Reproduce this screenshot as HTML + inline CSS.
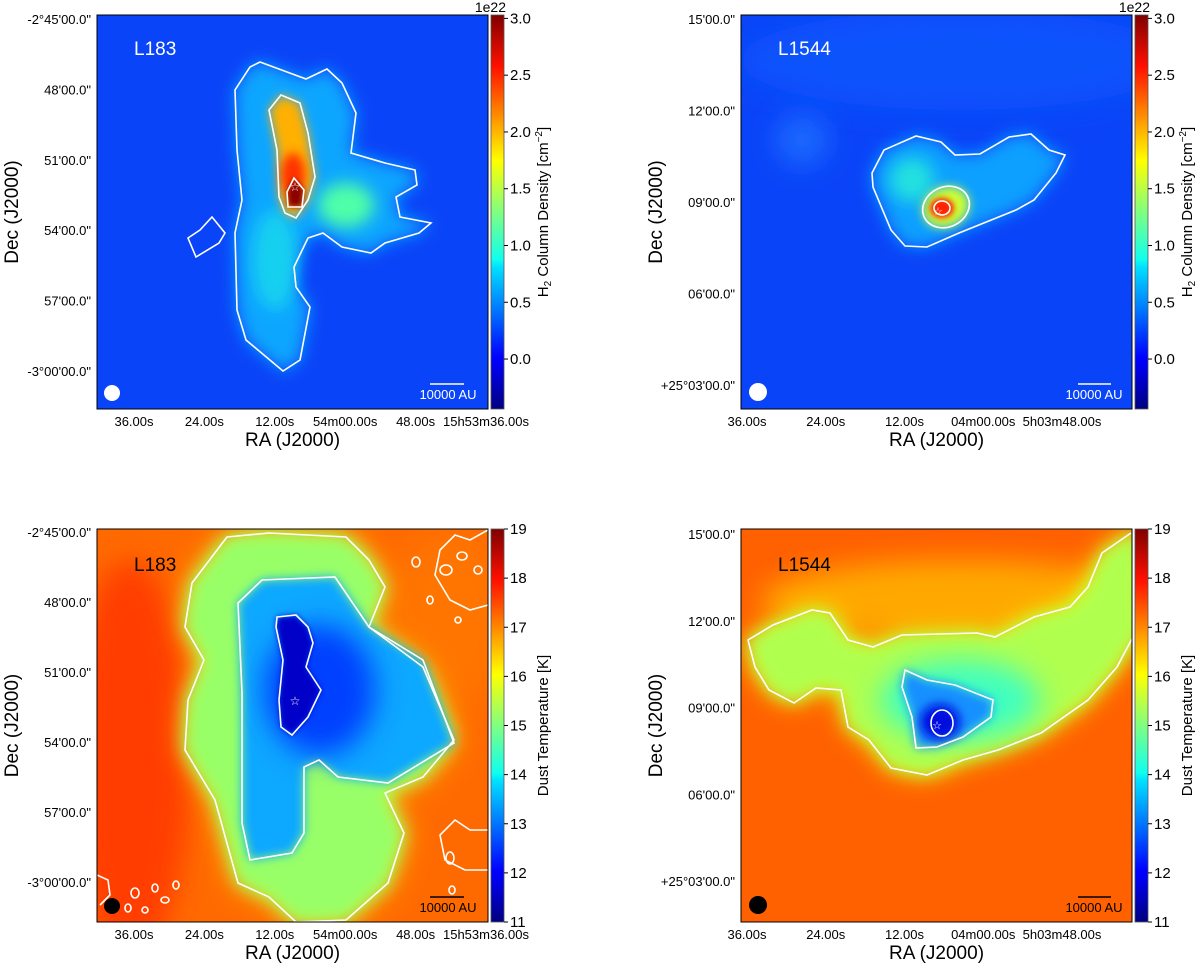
<!DOCTYPE html>
<html><head><meta charset="utf-8"><style>
html,body{margin:0;padding:0;background:#fff;}
svg text{font-family:"Liberation Sans","DejaVu Sans",sans-serif;}
</style></head>
<body>
<svg id="fig" width="1200" height="965" viewBox="0 0 1200 965" xmlns="http://www.w3.org/2000/svg">
<defs>
  <linearGradient id="jet" x1="0" y1="1" x2="0" y2="0">
    <stop offset="0" stop-color="#000080"/>
    <stop offset="0.11" stop-color="#0000f0"/>
    <stop offset="0.13" stop-color="#0000ff"/>
    <stop offset="0.36" stop-color="#00e0ff"/>
    <stop offset="0.38" stop-color="#10ffee"/>
    <stop offset="0.5" stop-color="#80ff80"/>
    <stop offset="0.63" stop-color="#ffff00"/>
    <stop offset="0.87" stop-color="#ff1000"/>
    <stop offset="1" stop-color="#800000"/>
  </linearGradient>
  <filter id="b8" x="-50%" y="-50%" width="200%" height="200%"><feGaussianBlur stdDeviation="8"/></filter>
  <filter id="b14" x="-50%" y="-50%" width="200%" height="200%"><feGaussianBlur stdDeviation="14"/></filter>
  <filter id="b5" x="-50%" y="-50%" width="200%" height="200%"><feGaussianBlur stdDeviation="5"/></filter>
  <filter id="b3" x="-50%" y="-50%" width="200%" height="200%"><feGaussianBlur stdDeviation="3"/></filter>
  <clipPath id="c1"><rect x="97" y="15" width="391" height="394"/></clipPath>
  <clipPath id="c2"><rect x="741" y="15" width="391" height="394"/></clipPath>
  <clipPath id="c3"><rect x="97" y="529" width="391" height="393"/></clipPath>
  <clipPath id="c4"><rect x="741" y="529" width="391" height="393"/></clipPath>
</defs>

<!-- Panel 1: L183 column density -->
<g clip-path="url(#c1)">
  <rect x="97" y="15" width="391" height="394" fill="#0a44f8"/>
  <path d="M260,62 L306,79 L327,69 L342,83 L356,113 L351,153 L385,163 L415,170 L417,185 L396,197 L400,217 L431,223 L419,233 L385,243 L371,253 L342,247 L323,233 L308,238 L294,267 L296,287 L310,307 L300,360 L283,371 L246,340 L237,310 L235,233 L242,200 L237,150 L235,90 L250,67 Z" fill="#0aa6ff" filter="url(#b8)"/>
  <ellipse cx="346" cy="205" rx="28" ry="22" fill="#50ffa8" filter="url(#b8)"/>
  <ellipse cx="275" cy="260" rx="22" ry="50" fill="#18d0f0" filter="url(#b8)"/>
  <path d="M281,95 L300,103 L308,133 L315,177 L308,200 L296,218 L285,213 L279,197 L277,150 L269,110 Z" fill="#ffb000" filter="url(#b5)"/>
  <ellipse cx="293" cy="175" rx="12" ry="22" fill="#ff3000" filter="url(#b5)"/>
  <path d="M294,178 L304,190 L302,207 L288,207 L287,192 Z" fill="#8a0000" filter="url(#b3)"/>
  <g fill="none" stroke="#fff" stroke-width="1.6">
    <path d="M260,62 L306,79 L327,69 L342,83 L356,113 L351,153 L385,163 L415,170 L417,185 L396,197 L400,217 L431,223 L419,233 L385,243 L371,253 L342,247 L323,233 L308,238 L294,267 L296,287 L310,307 L300,360 L283,371 L246,340 L237,310 L235,233 L242,200 L237,150 L235,90 L250,67 Z"/>
    <path d="M212,217 L225,233 L219,243 L196,257 L188,238 L200,230 Z"/>
    <path d="M281,95 L300,103 L308,133 L315,177 L308,200 L296,218 L285,213 L279,197 L277,150 L269,110 Z"/>
    <path d="M294,178 L304,190 L302,207 L288,207 L287,192 Z"/>
  </g>
  <text x="295" y="191" font-size="12" fill="#fff" text-anchor="middle">☆</text>
  <text x="134" y="55" font-size="19" fill="#fff">L183</text>
  <circle cx="112" cy="393" r="8" fill="#fff"/>
  <line x1="430" y1="384" x2="464" y2="384" stroke="#fff" stroke-width="1.5"/>
  <text x="448" y="399" font-size="13" fill="#fff" text-anchor="middle">10000 AU</text>
</g>

<!-- Panel 2: L1544 column density -->
<g clip-path="url(#c2)">
  <rect x="741" y="15" width="391" height="394" fill="#0a44f8"/>
  <ellipse cx="960" cy="60" rx="220" ry="50" fill="#0d52fc" filter="url(#b14)"/>
  <ellipse cx="802" cy="140" rx="25" ry="25" fill="#1a6cff" filter="url(#b14)"/>
  <path d="M884,150 L916,136 L941,142 L955,155 L980,154 L1009,137 L1031,134 L1049,150 L1065,155 L1056,173 L1034,200 L1016,210 L959,233 L927,247 L905,246 L891,230 L873,187 L872,173 Z" fill="#0aa0ff" filter="url(#b8)"/>
  <ellipse cx="912" cy="180" rx="22" ry="22" fill="#20e0e0" filter="url(#b8)"/>
  <ellipse cx="946" cy="207" rx="24" ry="20" fill="#d0ff30" filter="url(#b5)" transform="rotate(-25 946 207)"/>
  <ellipse cx="942" cy="208" rx="12" ry="10" fill="#ff2000" filter="url(#b3)"/>
  <g fill="none" stroke="#fff" stroke-width="1.6">
    <path d="M884,150 L916,136 L941,142 L955,155 L980,154 L1009,137 L1031,134 L1049,150 L1065,155 L1056,173 L1034,200 L1016,210 L959,233 L927,247 L905,246 L891,230 L873,187 L872,173 Z"/>
    <ellipse cx="946" cy="207" rx="24" ry="20" transform="rotate(-25 946 207)"/>
    <ellipse cx="942" cy="208" rx="8" ry="7"/>
  </g>
  <text x="938" y="215" font-size="11" fill="#fff" text-anchor="middle">☆</text>
  <text x="778" y="55" font-size="19" fill="#fff">L1544</text>
  <circle cx="758" cy="392" r="9" fill="#fff"/>
  <line x1="1078" y1="384" x2="1111" y2="384" stroke="#fff" stroke-width="1.5"/>
  <text x="1094" y="399" font-size="13" fill="#fff" text-anchor="middle">10000 AU</text>
</g>

<!-- Panel 3: L183 temperature -->
<g clip-path="url(#c3)">
  <rect x="97" y="529" width="391" height="393" fill="#ff6a00"/>
  <ellipse cx="130" cy="760" rx="60" ry="200" fill="#ff3c00" filter="url(#b14)"/>
  <ellipse cx="450" cy="620" rx="60" ry="90" fill="#ff7400" filter="url(#b14)"/>
  <path d="M227,537 L269,533 L346,537 L369,560 L385,587 L369,627 L423,667 L454,740 L423,777 L385,793 L404,833 L388,883 L346,920 L296,922 L269,897 L238,883 L215,800 L185,750 L188,700 L204,660 L185,627 L192,583 Z" fill="#e0ff20" filter="url(#b14)"/>
  <path d="M227,537 L269,533 L346,537 L369,560 L385,587 L369,627 L423,667 L454,740 L423,777 L385,793 L404,833 L388,883 L346,920 L296,922 L269,897 L238,883 L215,800 L185,750 L188,700 L204,660 L185,627 L192,583 Z" fill="#98ff68" filter="url(#b8)"/>
  <path d="M262,580 L335,577 L369,627 L423,660 L454,743 L388,783 L338,777 L319,760 L304,767 L304,833 L292,853 L250,860 L242,823 L242,693 L238,603 Z" fill="#10a8ff" filter="url(#b5)"/>
  <ellipse cx="320" cy="690" rx="55" ry="65" fill="#0540ff" filter="url(#b14)"/>
  <path d="M277,617 L296,615 L308,627 L313,643 L306,667 L321,690 L308,717 L292,735 L281,727 L279,700 L283,660 L276,627 Z" fill="#0000c8" filter="url(#b3)"/>
  <g fill="none" stroke="#fff" stroke-width="1.6">
    <path d="M227,537 L269,533 L346,537 L369,560 L385,587 L369,627 L423,667 L454,740 L423,777 L385,793 L404,833 L388,883 L346,920 L296,922 L269,897 L238,883 L215,800 L185,750 L188,700 L204,660 L185,627 L192,583 Z"/>
    <path d="M262,580 L335,577 L369,627 L423,660 L454,743 L388,783 L338,777 L319,760 L304,767 L304,833 L292,853 L250,860 L242,823 L242,693 L238,603 Z"/>
    <path d="M277,617 L296,615 L308,627 L313,643 L306,667 L321,690 L308,717 L292,735 L281,727 L279,700 L283,660 L276,627 Z"/>
    <path d="M97,875 L108,880 L110,895 L100,905"/>
    <ellipse cx="135" cy="893" rx="4" ry="5"/><ellipse cx="155" cy="888" rx="3" ry="4"/>
    <ellipse cx="165" cy="900" rx="4" ry="3"/><ellipse cx="128" cy="908" rx="3" ry="4"/>
    <ellipse cx="176" cy="885" rx="3" ry="4"/><ellipse cx="145" cy="910" rx="3" ry="3"/>
    <ellipse cx="416" cy="562" rx="4" ry="5"/><ellipse cx="446" cy="570" rx="6" ry="5"/>
    <ellipse cx="462" cy="556" rx="5" ry="4"/><ellipse cx="430" cy="600" rx="3" ry="4"/>
    <ellipse cx="478" cy="570" rx="4" ry="4"/><ellipse cx="458" cy="620" rx="3" ry="3"/>
    <path d="M488,530 L470,540 L455,535 L440,550 L435,575 L450,600 L470,610 L488,605"/>
    <path d="M488,830 L470,830 L455,820 L440,835 L445,860 L465,870 L488,870"/>
    <ellipse cx="450" cy="858" rx="4" ry="6"/><ellipse cx="452" cy="890" rx="3" ry="4"/>
  </g>
  <text x="295" y="705" font-size="12" fill="#fff" text-anchor="middle">☆</text>
  <text x="134" y="571" font-size="19" fill="#000">L183</text>
  <circle cx="112" cy="906" r="8" fill="#000"/>
  <line x1="430" y1="897" x2="464" y2="897" stroke="#000" stroke-width="1.5"/>
  <text x="448" y="912" font-size="13" fill="#000" text-anchor="middle">10000 AU</text>
</g>

<!-- Panel 4: L1544 temperature -->
<g clip-path="url(#c4)">
  <rect x="741" y="529" width="391" height="393" fill="#ff6000"/>
  <ellipse cx="960" cy="600" rx="200" ry="40" fill="#ffa800" filter="url(#b14)"/>
  <path d="M748,640 L773,625 L812,610 L830,613 L848,640 L873,647 L902,635 L977,633 L995,637 L1034,617 L1070,607 L1088,587 L1102,553 L1131,533 L1140,533 L1140,633 L1117,667 L1088,700 L1041,733 L998,750 L963,760 L927,775 L891,768 L869,740 L848,727 L841,690 L816,688 L794,703 L769,690 L755,667 Z" fill="#e8ff10" filter="url(#b14)"/>
  <path d="M748,640 L773,625 L812,610 L830,613 L848,640 L873,647 L902,635 L977,633 L995,637 L1034,617 L1070,607 L1088,587 L1102,553 L1131,533 L1140,533 L1140,633 L1117,667 L1088,700 L1041,733 L998,750 L963,760 L927,775 L891,768 L869,740 L848,727 L841,690 L816,688 L794,703 L769,690 L755,667 Z" fill="#b0ff50" filter="url(#b8)"/>
  <ellipse cx="960" cy="700" rx="80" ry="40" fill="#40ffc0" filter="url(#b14)"/>
  <path d="M905,670 L927,680 L955,685 L993,700 L991,717 L963,737 L937,747 L916,748 L912,717 L902,687 Z" fill="#1890ff" filter="url(#b5)"/>
  <ellipse cx="940" cy="722" rx="20" ry="18" fill="#0010e0" filter="url(#b5)"/>
  <g fill="none" stroke="#fff" stroke-width="1.6">
    <path d="M1131,533 L1102,553 L1088,587 L1070,607 L1034,617 L995,637 L977,633 L902,635 L873,647 L848,640 L830,613 L812,610 L773,625 L748,640 L755,667 L769,690 L794,703 L816,688 L841,690 L848,727 L869,740 L891,768 L927,775 L963,760 L998,750 L1041,733 L1088,700 L1117,667 L1135,633"/>
    <path d="M905,670 L927,680 L955,685 L993,700 L991,717 L963,737 L937,747 L916,748 L912,717 L902,687 Z"/>
    <ellipse cx="942" cy="723" rx="11" ry="13"/>
  </g>
  <text x="937" y="729" font-size="11" fill="#fff" text-anchor="middle">☆</text>
  <text x="778" y="571" font-size="19" fill="#000">L1544</text>
  <circle cx="758" cy="905" r="9" fill="#000"/>
  <line x1="1078" y1="897" x2="1111" y2="897" stroke="#000" stroke-width="1.5"/>
  <text x="1094" y="912" font-size="13" fill="#000" text-anchor="middle">10000 AU</text>
</g>

<g id="axes"></g>
</svg>
<script>
// Tick label data
const decLabelsL183 = ["-2°45'00.0\"", "48'00.0\"", "51'00.0\"", "54'00.0\"", "57'00.0\"", "-3°00'00.0\""];
const decValuesL183 = [0, 3, 6, 9, 12, 15];          // arcmin offset from top
const decLabelsL1544 = ["15'00.0\"", "12'00.0\"", "09'00.0\"", "06'00.0\"", "+25°03'00.0\""];
const decValuesL1544 = [0, 3, 6, 9, 12];
const raLabelsL183 = ["36.00s", "24.00s", "12.00s", "54m00.00s", "48.00s", "15h53m36.00s"];
const raValuesL183 = [0, 12, 24, 36, 48, 60];        // seconds offset
const raLabelsL1544 = ["36.00s", "24.00s", "12.00s", "04m00.00s", "5h03m48.00s"];
const raValuesL1544 = [0, 12, 24, 36, 48];
const densityTicks = [0.0, 0.5, 1.0, 1.5, 2.0, 2.5, 3.0];
const densityRange = [-0.44, 3.03];
const tempTicks = [11, 12, 13, 14, 15, 16, 17, 18, 19];
const tempRange = [11, 19];

const NS = "http://www.w3.org/2000/svg";
const axes = document.getElementById('axes');
function mk(tag, attrs, txt) {
  const e = document.createElementNS(NS, tag);
  for (const k in attrs) e.setAttribute(k, attrs[k]);
  if (txt !== undefined) e.textContent = txt;
  axes.appendChild(e);
  return e;
}
function lin(d0, d1, r0, r1) { return v => r0 + (v - d0) / (d1 - d0) * (r1 - r0); }

const panels = [
  {x0:97, x1:488, y0:15, y1:409, decL:decLabelsL183, decV:decValuesL183, decY:[20,372], decD:[0,15],
   raL:raLabelsL183, raV:raValuesL183, raX:[134,486], raD:[0,60], cb:'density'},
  {x0:741, x1:1132, y0:15, y1:409, decL:decLabelsL1544, decV:decValuesL1544, decY:[20,386], decD:[0,12],
   raL:raLabelsL1544, raV:raValuesL1544, raX:[747,1062], raD:[0,48], cb:'density'},
  {x0:97, x1:488, y0:529, y1:922, decL:decLabelsL183, decV:decValuesL183, decY:[533,883], decD:[0,15],
   raL:raLabelsL183, raV:raValuesL183, raX:[134,486], raD:[0,60], cb:'temp'},
  {x0:741, x1:1132, y0:529, y1:922, decL:decLabelsL1544, decV:decValuesL1544, decY:[535,882], decD:[0,12],
   raL:raLabelsL1544, raV:raValuesL1544, raX:[747,1062], raD:[0,48], cb:'temp'}
];

panels.forEach(p => {
  const frame = mk('rect', {x:p.x0, y:p.y0, width:p.x1-p.x0, height:p.y1-p.y0, fill:'none', stroke:'#000', 'stroke-width':1});
  
  
  const yS = lin(p.decD[0], p.decD[1], p.decY[0], p.decY[1]);
  p.decV.forEach((v, i) => {
    const t = mk('text', {x:p.x0-6, y:yS(v)+4, 'font-size':13, 'text-anchor':'end', fill:'#000'}, p.decL[i]);
    
    
  });
  const xS = lin(p.raD[0], p.raD[1], p.raX[0], p.raX[1]);
  p.raV.forEach((v, i) => {
    const t = mk('text', {x:xS(v), y:p.y1+17, 'font-size':13, 'text-anchor':'middle', fill:'#000'}, p.raL[i]);
    
    
  });
  const cx = (p.x0 + p.x1) / 2, cy = (p.y0 + p.y1) / 2;
  const xt = mk('text', {x:cx, y:p.y1+37, 'font-size':19, 'text-anchor':'middle', fill:'#000'}, 'RA (J2000)');
  
  
  const yx = p.x0 - 79;
  const yt = mk('text', {x:yx, y:cy, 'font-size':19, 'text-anchor':'middle', fill:'#000', transform:`rotate(-90 ${yx} ${cy})`}, 'Dec (J2000)');
  
  

  // colorbar
  const cbx = p.x1 + 3, cbw = 13;
  const cr = mk('rect', {x:cbx, y:p.y0, width:cbw, height:p.y1-p.y0, fill:'url(#jet)', stroke:'#555', 'stroke-width':0.8});
  
  
  const ticks = p.cb === 'density' ? densityTicks : tempTicks;
  const rng = p.cb === 'density' ? densityRange : tempRange;
  const cS = lin(rng[0], rng[1], p.y1, p.y0);
  ticks.forEach(v => {
    const y = cS(v);
    mk('line', {x1:cbx+cbw, y1:y, x2:cbx+cbw+4, y2:y, stroke:'#000', 'stroke-width':1});
    const lbl = p.cb === 'density' ? v.toFixed(1) : String(v);
    const t = mk('text', {x:cbx+cbw+6, y:y+5, 'font-size':15, fill:'#000'}, lbl);
    
    
  });
  const lx = cbx + 57;
  let ct;
  if (p.cb === 'density') {
    const e = mk('text', {x:cbx+15, y:p.y0-3, 'font-size':14, 'text-anchor':'end', fill:'#000'}, '1e22');
    
    
    ct = mk('text', {x:lx, y:cy, 'font-size':15, 'text-anchor':'middle', fill:'#000', transform:`rotate(-90 ${lx} ${cy})`});
    ct.innerHTML = 'H<tspan font-size="10" dy="3">2</tspan><tspan dy="-3"> Column Density [cm</tspan><tspan font-size="10" dy="-6">−2</tspan><tspan dy="6">]</tspan>';
  } else {
    ct = mk('text', {x:lx, y:cy, 'font-size':15, 'text-anchor':'middle', fill:'#000', transform:`rotate(-90 ${lx} ${cy})`}, 'Dust Temperature [K]');
  }
  
  
});
</script>
</body></html>
